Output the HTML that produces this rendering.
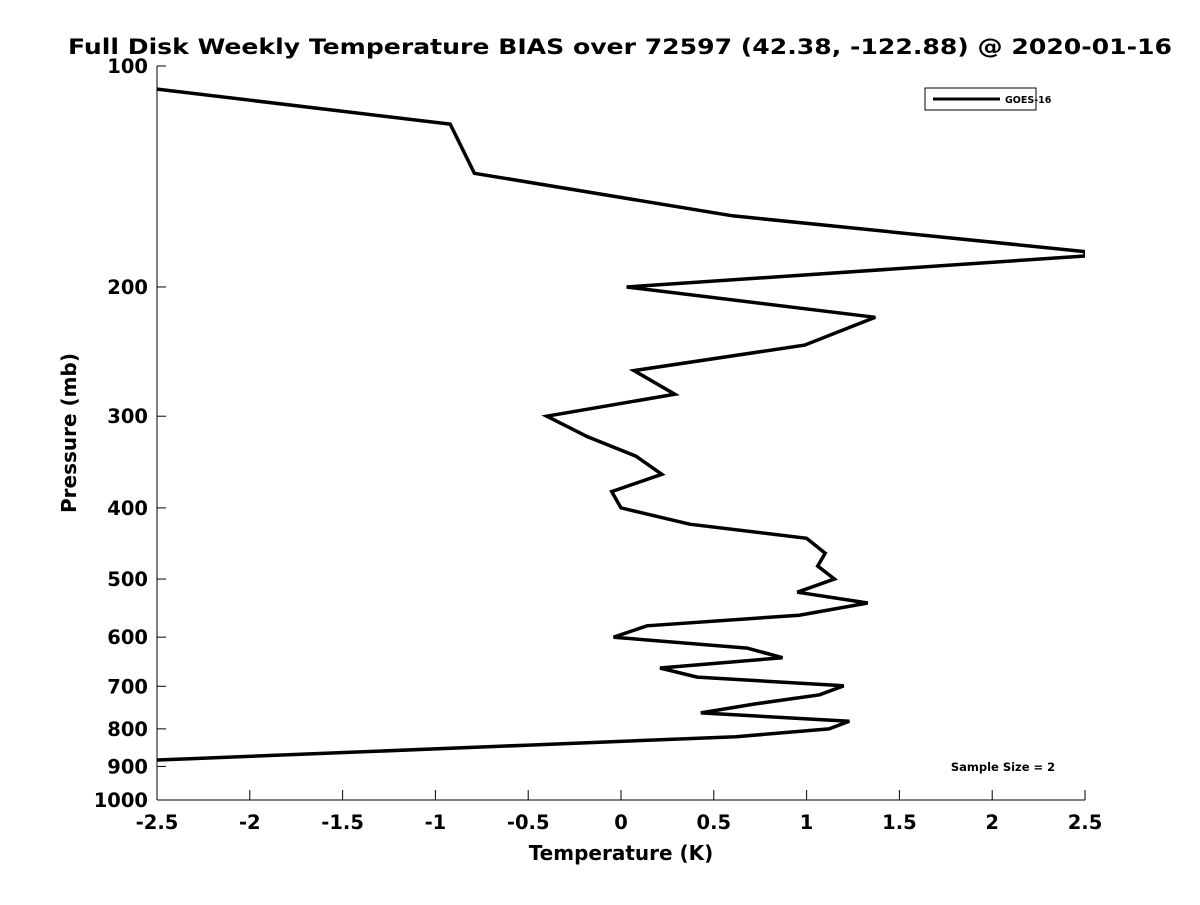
<!DOCTYPE html>
<html><head><meta charset="utf-8"><style>
body{margin:0;background:#fff;}
svg text{font-family:"DejaVu Sans","Liberation Sans",sans-serif;font-weight:bold;fill:#000;}
</style></head><body>
<svg id="chart" width="1200" height="900" xmlns="http://www.w3.org/2000/svg">
<rect width="1200" height="900" fill="#fff"/>
<text x="68" y="54" font-size="21" textLength="1104" lengthAdjust="spacingAndGlyphs">Full Disk Weekly Temperature BIAS over 72597 (42.38, -122.88) @ 2020-01-16</text>
<g id="axes"></g>
<clipPath id="clip"><rect x="157" y="66" width="928" height="734"/></clipPath>
<g id="series" clip-path="url(#clip)"></g>
<g>
<rect x="925" y="88" width="111" height="22" fill="#fff" stroke="#000" stroke-width="1"/>
<line x1="933" y1="99" x2="1000" y2="99" stroke="#000" stroke-width="3"/>
<text x="1005" y="103" font-size="9.5">GOES-16</text>
</g>
<text x="1003" y="771" font-size="11.5" text-anchor="middle">Sample Size = 2</text>
<text x="621" y="860" font-size="20" text-anchor="middle">Temperature (K)</text>
<text transform="translate(76,433) rotate(-90)" font-size="20" text-anchor="middle">Pressure (mb)</text>
</svg>
<script>
const temps = [-2.5,-0.92,-0.79,0.60,2.5,2.5,0.03,1.37,0.99,0.07,0.29,-0.40,-0.18,0.08,0.22,-0.05,0.00,0.37,1.00,1.10,1.06,1.15,0.95,1.33,0.96,0.14,-0.04,0.68,0.87,0.21,0.41,1.20,1.07,0.72,0.43,1.23,1.12,0.62,-0.51,-2.34,-2.5];
const pressures = [107.5,120,140,160,179,181.5,200,220,240,260,280,300,320,340,360,380,400,421,440,461,480,500,521,539,560,579,600,621,640,661,680,699,719,740,761,781,800,820,842,879,882];
const xTicks = [-2.5,-2,-1.5,-1,-0.5,0,0.5,1,1.5,2,2.5];
const xTickLabels = ["-2.5","-2","-1.5","-1","-0.5","0","0.5","1","1.5","2","2.5"];
const yTicks = [100,200,300,400,500,600,700,800,900,1000];
const yTickLabels = ["100","200","300","400","500","600","700","800","900","1000"];

const X0=157,X1=1085,Y0=66,Y1=800;
function xs(t){return X0+(t+2.5)/5*(X1-X0);}
function ys(p){return Y0+(Math.log10(p)-2)*(Y1-Y0);}
const NS="http://www.w3.org/2000/svg";
const axes=document.getElementById('axes');
function mk(tag,attrs,parent){const e=document.createElementNS(NS,tag);for(const k in attrs)e.setAttribute(k,attrs[k]);parent.appendChild(e);return e;}
const yAxis=mk('line',{x1:X0,y1:Y0,x2:X0,y2:Y1,stroke:'#000','stroke-width':1},axes);


const xAxis=mk('line',{x1:X0,y1:Y1,x2:X1,y2:Y1,stroke:'#000','stroke-width':1},axes);


xTicks.forEach((t,i)=>{
  const x=xs(t);
  mk('line',{x1:x,y1:Y1,x2:x,y2:Y1-10,stroke:'#000'},axes);
  const tx=mk('text',{x:x,y:Y1+29,'font-size':19.5,'text-anchor':'middle'},axes);
  tx.textContent=xTickLabels[i];
  
  
});
yTicks.forEach((p,i)=>{
  const y=ys(p);
  mk('line',{x1:X0,y1:y,x2:X0+9,y2:y,stroke:'#000'},axes);
  const tx=mk('text',{x:X0-9,y:y+7,'font-size':19.5,'text-anchor':'end'},axes);
  tx.textContent=yTickLabels[i];
  
  
});
const pts=temps.map((t,i)=>xs(t).toFixed(1)+','+ys(pressures[i]).toFixed(1)).join(' ');
const line=mk('polyline',{points:pts,fill:'none',stroke:'#000','stroke-width':3.5,'stroke-linejoin':'miter'},document.getElementById('series'));


</script>
</body></html>
